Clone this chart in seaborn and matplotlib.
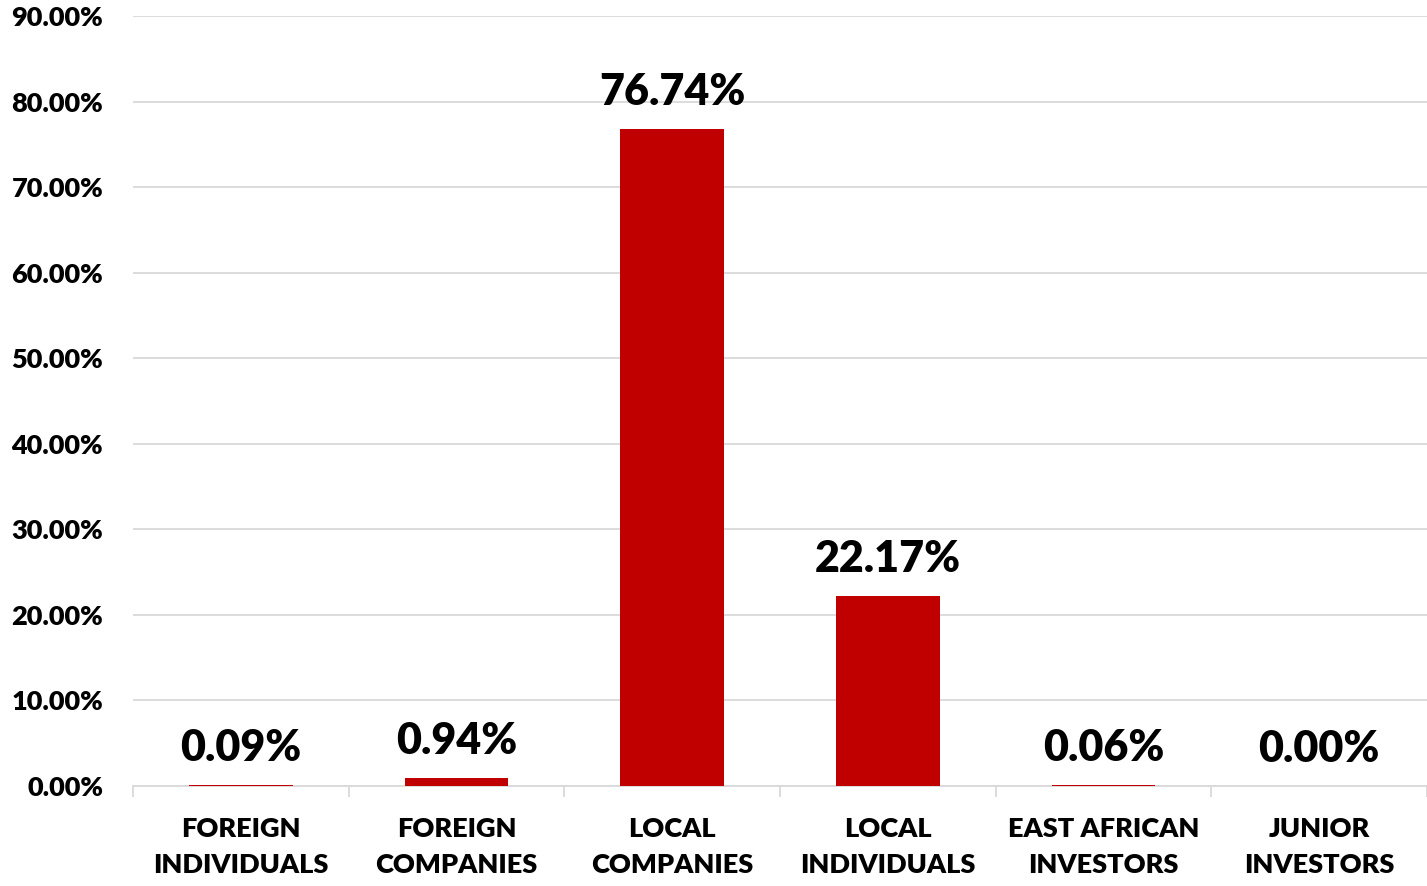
import matplotlib
matplotlib.use("Agg")
import matplotlib.pyplot as plt
import seaborn as sns
import pandas as pd
from matplotlib.ticker import FuncFormatter, MultipleLocator, FixedLocator

categories = ["FOREIGN\nINDIVIDUALS", "FOREIGN\nCOMPANIES", "LOCAL\nCOMPANIES",
              "LOCAL\nINDIVIDUALS", "EAST AFRICAN\nINVESTORS", "JUNIOR\nINVESTORS"]
shares = [0.09, 0.94, 76.74, 22.17, 0.06, 0.00]

df = pd.DataFrame({"category": categories, "share": shares})

sns.set_theme(style="white")
plt.rcParams["font.family"] = ["Lato", "DejaVu Sans"]
WEIGHT = "heavy"

DPI = 100
W, H = 1427, 886
fig = plt.figure(figsize=(W / DPI, H / DPI), dpi=DPI)
ax = fig.add_axes([133 / W, (H - 786) / H, (1427 - 133) / W, (786 - 16) / H])

sns.barplot(data=df, x="category", y="share", color="#C00000", width=0.48,
            saturation=1, linewidth=0, ax=ax, zorder=3)

ax.set_ylim(0, 90)
ax.set_xlim(-0.5, len(categories) - 0.5)
ax.yaxis.set_major_locator(MultipleLocator(10))
ax.yaxis.set_major_formatter(FuncFormatter(lambda v, _: f"{v:.2f}%"))
ax.grid(axis="y", color="#D9D9D9", linewidth=1.3, zorder=0)
ax.grid(axis="x", visible=False)

for side in ["top", "right", "left"]:
    ax.spines[side].set_visible(False)
ax.spines["bottom"].set_color("#D9D9D9")
ax.spines["bottom"].set_linewidth(1.3)

ax.set_xlabel("")
ax.set_ylabel("")
ax.tick_params(axis="y", length=0, pad=21.5, labelsize=19.5, labelcolor="black")
ax.tick_params(axis="x", which="major", length=0, pad=22, labelsize=19.5,
               labelcolor="black")
ax.xaxis.set_minor_locator(FixedLocator([i - 0.5 for i in range(len(categories) + 1)]))
ax.tick_params(axis="x", which="minor", length=8, width=1.3, color="#D9D9D9",
               bottom=True)
for lbl in ax.get_xticklabels() + ax.get_yticklabels():
    lbl.set_fontweight(WEIGHT)
for lbl in ax.get_xticklabels():
    lbl.set_linespacing(1.6)

pt_per_px = 72 / DPI
for i, v in enumerate(shares):
    ax.annotate(f"{v:.2f}%", xy=(i, v), xytext=(0, 24 * pt_per_px),
                textcoords="offset points", ha="center", va="baseline",
                fontsize=31, fontweight=WEIGHT, color="black", zorder=4)

fig.savefig("out.png", dpi=DPI)
